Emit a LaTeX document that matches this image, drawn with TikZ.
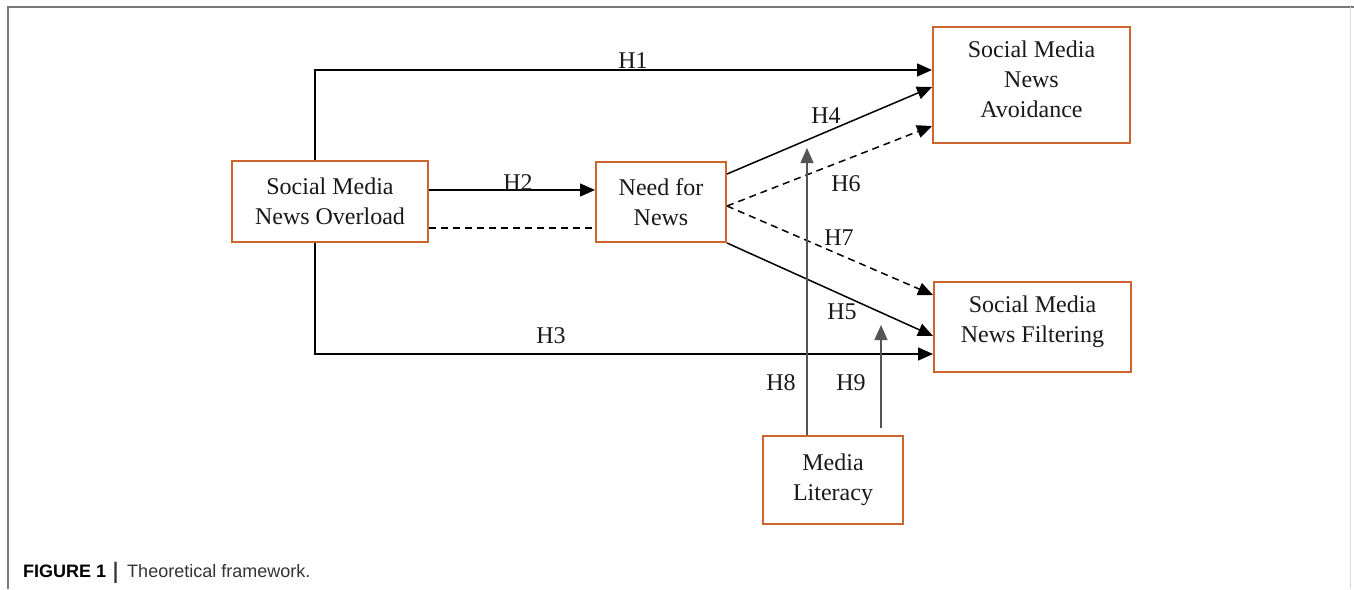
\documentclass[tikz,border=0pt]{standalone}
\usepackage{fontspec}
\setmainfont{Liberation Serif}
\newfontfamily\capfont{Liberation Sans}
\usetikzlibrary{arrows.meta,calc}
\definecolor{boxorange}{RGB}{204,102,46}
\definecolor{modgray}{RGB}{85,85,85}
\definecolor{framegray}{RGB}{120,120,120}
\tikzset{
  varbox/.style={draw=boxorange, line width=2pt, fill=white, align=center,
    font=\fontsize{24}{30}\selectfont, text=black!90, inner sep=0pt},
  hlab/.style={font=\fontsize{24}{28}\selectfont, text=black!90, inner sep=1pt},
  arr/.style={line width=1.5pt, -{Triangle[length=15pt,width=13pt]}},
  plain/.style={line width=1.5pt},
  dasharr/.style={arr, dash pattern=on 7pt off 5pt},
  dashplain/.style={plain, dash pattern=on 7pt off 5pt},
  modarr/.style={line width=1.3pt, draw=modgray, -{Triangle[length=15pt,width=13pt]}},
}
\begin{document}
\begin{tikzpicture}[x=1pt,y=-1pt]
\useasboundingbox (0,0) rectangle (1354,589);
% frame
\draw[framegray, line width=1.5pt] (8,589) -- (8,7) -- (1354,7);
\draw[black!15, line width=1pt] (1350,7) -- (1350,589);

% boxes
\node[varbox, minimum width=196pt, minimum height=81pt] (over) at (330,201.5) {Social Media\\News Overload};
\node[varbox, minimum width=130pt, minimum height=80pt] (need) at (661,202) {Need for\\News};
\node[varbox, minimum width=197pt, minimum height=116pt, text depth=11pt] (avoid) at (1031.5,85) {Social Media\\News\\Avoidance};
\node[varbox, minimum width=197pt, minimum height=90pt, text depth=16pt] (filter) at (1032.5,327) {Social Media\\News Filtering};
\node[varbox, minimum width=140pt, minimum height=88pt] (lit) at (833,480) {Media\\Literacy};

% free ends of moderating arrows
\coordinate (h8top) at (807,148);
\coordinate (h9top) at (881,325);

% connectors
\draw[arr] ([xshift=-15pt]over.north) |- ([yshift=15pt]avoid.west);
\draw[arr] ([xshift=-15pt]over.south) |- ([yshift=-27pt]filter.west);
\draw[arr] ([yshift=11.5pt]over.east) -- ([yshift=12pt]need.west);
\draw[dashplain] ([yshift=-26.5pt]over.east) -- ([yshift=-26pt]need.west);
\draw[arr] ([yshift=28pt]need.east) -- ([yshift=-2pt]avoid.west);
\draw[dasharr] ([yshift=-4pt]need.east) -- ([yshift=-41pt]avoid.west);
\draw[dasharr] ([yshift=-4pt]need.east) -- ([yshift=32pt]filter.west);
\draw[arr] (need.south east) -- ([yshift=-9pt]filter.west);
\draw[modarr] ([xshift=-26pt]lit.north) -- (h8top);
\draw[modarr] ([xshift=48pt,yshift=7pt]lit.north) -- (h9top);

% labels
\node[hlab] (l1) at (633,61) {H1};
\node[hlab] (l2) at (518,183) {H2};
\node[hlab] (l3) at (551,336) {H3};
\node[hlab] (l4) at (826,116) {H4};
\node[hlab] (l5) at (842,312) {H5};
\node[hlab] (l6) at (846,184) {H6};
\node[hlab] (l7) at (839,238) {H7};
\node[hlab] (l8) at (781,383) {H8};
\node[hlab] (l9) at (851,383) {H9};

% caption
\node[anchor=base west, inner sep=0pt, font=\capfont\fontsize{18}{21}\selectfont] (cap) at (23,577)
  {\textbf{FIGURE 1}\hspace{7pt}\textcolor{black!80}{\raisebox{-1pt}{\scalebox{1}[1.25]{\textbf{|}}}}\hspace{9pt}\textcolor{black!80}{Theoretical framework.}};
\end{tikzpicture}
\end{document}
